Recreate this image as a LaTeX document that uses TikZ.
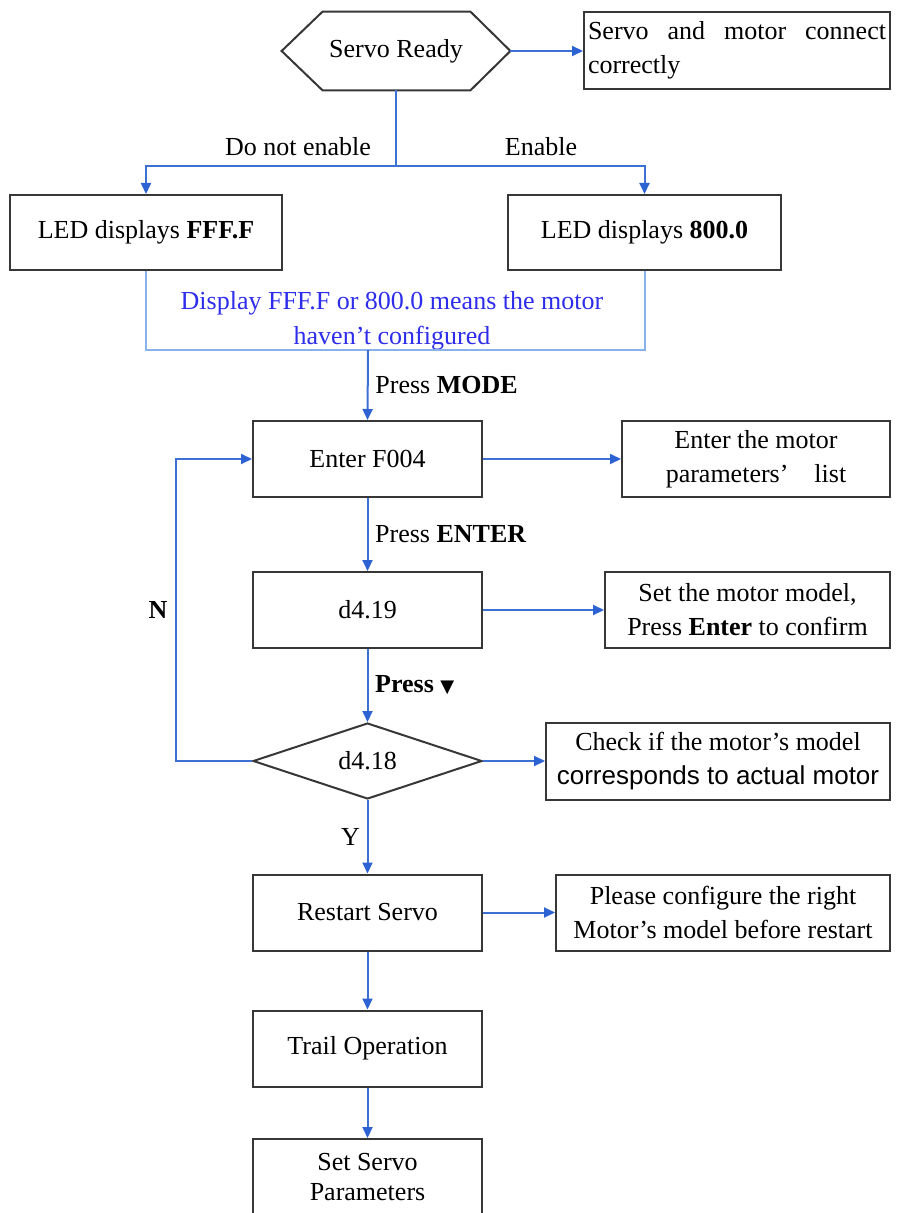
\documentclass[tikz,border=0pt]{standalone}
\usepackage{fontspec}
\setmainfont{Liberation Serif}
\newfontfamily\sansfont{Liberation Sans}
\newfontfamily\symbolfont{DejaVu Sans}
\usetikzlibrary{shapes.geometric,arrows.meta}
\definecolor{linkblue}{RGB}{60,112,210}
\definecolor{tipblue}{RGB}{45,98,210}
\definecolor{noteblue}{RGB}{135,178,235}
\definecolor{notetext}{RGB}{45,45,235}
\definecolor{boxgray}{RGB}{55,55,55}

\begin{document}
\begin{tikzpicture}
[x=0.5pt,y=-0.5pt,>={Triangle[length=5.5pt,width=5pt,color=tipblue]},
 font=\fontsize{13}{17}\selectfont,
 box/.style = {draw=boxgray, line width=1pt, minimum width=114.5pt, minimum height=38pt, inner sep=2pt},
 link/.style = {draw=linkblue, line width=1pt},
 note/.style = {draw=noteblue, line width=1pt},]

\useasboundingbox (0,0) rectangle (896,1213);

% top: servo ready and the two displays
\node (ready) at (396,51) [minimum width=114pt, minimum height=39pt] {Servo Ready};
\draw [draw=boxgray, line width=1pt] (ready.west) -- ([xshift=20.5pt]ready.north west)
  -- ([xshift=-20pt]ready.north east) -- (ready.east) -- ([xshift=-20pt]ready.south east)
  -- ([xshift=20.5pt]ready.south west) -- cycle;
\node (connect) at (737,50.5) [box, minimum width=153pt, minimum height=38.5pt, text width=149pt, align=justify, inner sep=1pt] {\hyphenpenalty=10000 Servo and motor connect correctly};
\node (fff) at (146,232.5) [box, minimum width=136pt, minimum height=37.5pt] {LED displays \textbf{FFF.F}};
\node (eight) at (644.5,232.5) [box, minimum width=136.5pt, minimum height=37.5pt] {LED displays \textbf{800.0}};
\node (off) at (298,147) {Do not enable};
\node (on) at (541,147) {Enable};
\coordinate (split) at (396,166);
\coordinate (join) at (368,350);
\node (warn) at (392,321) [text=notetext, align=center, font=\fontsize{13}{17.5}\selectfont] {Display FFF.F or 800.0 means the motor\\haven’t configured};

% main column
\node (f004) at (367.5,459) [box] {Enter F004};
\node (list) at (756,459) [box, minimum width=134pt, align=center] {Enter the motor\\parameters’\hspace{1em}list};
\node (d419) at (367.5,610) [box] {d4.19};
\node (model) at (747.5,610) [box, minimum width=142.5pt, align=center] {Set the motor model,\\Press \textbf{Enter} to confirm};
\node (d418) at (367.5,761) [diamond, aspect=3, draw=boxgray, line width=1pt, minimum width=114.5pt, minimum height=38pt, inner sep=0pt] {d4.18};
\node (check) at (718,761) [box, minimum width=172pt, minimum height=38.5pt, align=center] {Check if the motor’s model\\{\sansfont corresponds to actual motor}};
\node (no) at (158,610) {\textbf{N}};
\node (restart) at (367.5,912.5) [box] {Restart Servo};
\node (advice) at (723,912.5) [box, minimum width=167pt, align=center] {Please configure the right\\Motor’s model before restart};
\node (trail) at (367.5,1048.5) [box] {Trail Operation};
\node (params) at (367.5,1177) [box, align=center, font=\fontsize{13}{15}\selectfont] {Set Servo\\Parameters};

% connectors
\draw [link,->] (ready.east) -- (ready.east -| connect.west);
\draw [link] (ready.south) -- (split);
\draw [link,->] (split) -| (fff.north);
\draw [link,->] (split) -| (eight.north);
\draw [note] (fff.south) |- (join) -| (eight.south);
\draw [link,->] (join) -- (f004.north) node[midway,right] {Press \textbf{MODE}};
\draw [link,->] (f004) -- (list);
\draw [link,->] (f004) -- (d419) node[midway,right] {Press \textbf{ENTER}};
\draw [link,->] (d419) -- (model);
\draw [link,->] (d419) -- (d418) node[midway,right] {\textbf{Press} {\symbolfont\fontsize{9}{9}\selectfont ▼}};
\draw [link,->] (d418) -- (check);
\draw [link,->] (d418.west) -- ++(-76,0) |- (f004.west);
\draw [link,->] (d418) -- (restart) node[midway,left] {Y};
\draw [link,->] (restart) -- (advice);
\draw [link,->] (restart) -- (trail);
\draw [link,->] (trail) -- (params);

\end{tikzpicture}
\end{document}
